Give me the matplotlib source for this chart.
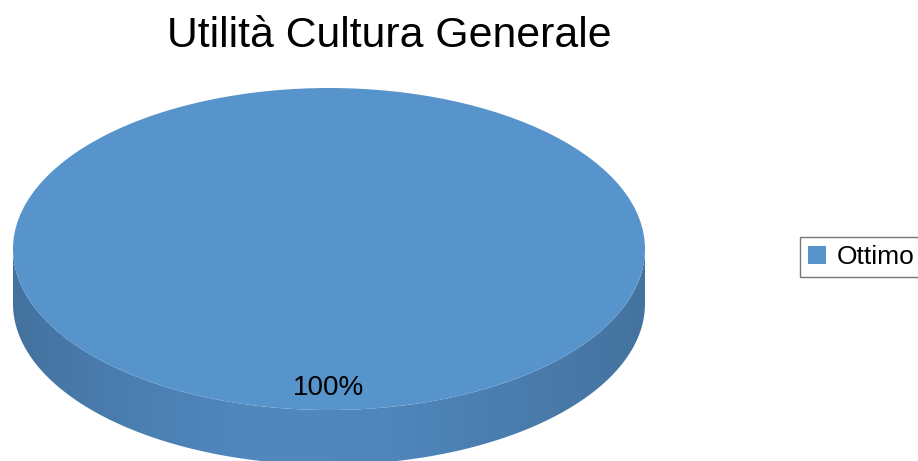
import numpy as np
import matplotlib
matplotlib.use("Agg")
import matplotlib.pyplot as plt
from matplotlib.path import Path
from matplotlib.patches import PathPatch
from matplotlib.colors import LinearSegmentedColormap

# Survey answers for "Utilità Cultura Generale"
categories = ["Ottimo"]
shares = [100]

title = "Utilità Cultura Generale"
top_color = "#5794cb"
depth = 0.34  # thickness of the disc, in axis units of the y radius

plt.rcParams["font.family"] = ["Liberation Sans", "DejaVu Sans"]

fig = plt.figure(figsize=(9.18, 4.61), dpi=100)
# axes spans the pie top (y in [-1, 1]) plus room for the side below
ax = fig.add_axes([13 / 918, 0.0, 632 / 918, 373 / 461])

wedges, _, autotexts = ax.pie(
    shares,
    colors=[top_color],
    startangle=90,
    counterclock=False,
    autopct="%1.0f%%",
    pctdistance=0.863,
    wedgeprops=dict(linewidth=0),
    textprops=dict(fontsize=20, color="black"),
)
ax.set_aspect("auto")
ax.set_xlim(-1, 1)
ax.set_ylim(1 - 373 / 161, 1)
ax.axis("off")

# front side of the disc: lower half of top ellipse joined to the shifted bottom ellipse
theta = np.linspace(np.pi, 2 * np.pi, 200)
upper = np.column_stack([np.cos(theta), np.sin(theta)])
lower = np.column_stack([np.cos(theta[::-1]), np.sin(theta[::-1]) - depth])
verts = np.vstack([upper, lower, upper[:1]])
codes = [Path.MOVETO] + [Path.LINETO] * (len(verts) - 2) + [Path.CLOSEPOLY]
side = PathPatch(Path(verts, codes), facecolor="none", edgecolor="none", zorder=0)
ax.add_patch(side)

side_cmap = LinearSegmentedColormap.from_list(
    "side", ["#44729f", "#4b7fb2", "#5189bf", "#4f86bb", "#4a7cad", "#44739f"]
)
grad = np.linspace(0, 1, 256)[None, :]
img = ax.imshow(grad, cmap=side_cmap, aspect="auto",
                extent=[-1, 1, -1 - depth, 0], zorder=0)
img.set_clip_path(side)
for w in wedges:
    w.set_zorder(1)
for t in autotexts:
    t.set_zorder(2)

fig.text(389 / 918, 1 - 36 / 461, title, ha="center", va="center", fontsize=30.8)

leg = fig.legend(
    wedges, categories,
    loc="center left",
    bbox_to_anchor=(800 / 918, 1 - 257 / 461),
    fontsize=19,
    frameon=True,
    fancybox=False,
    handlelength=0.66,
    handleheight=0.66,
    handletextpad=0.4,
    borderpad=0.32,
    borderaxespad=0,
)
leg.get_frame().set_edgecolor("#555555")
leg.get_frame().set_linewidth(1.0)

fig.savefig("out.png", dpi=100)
